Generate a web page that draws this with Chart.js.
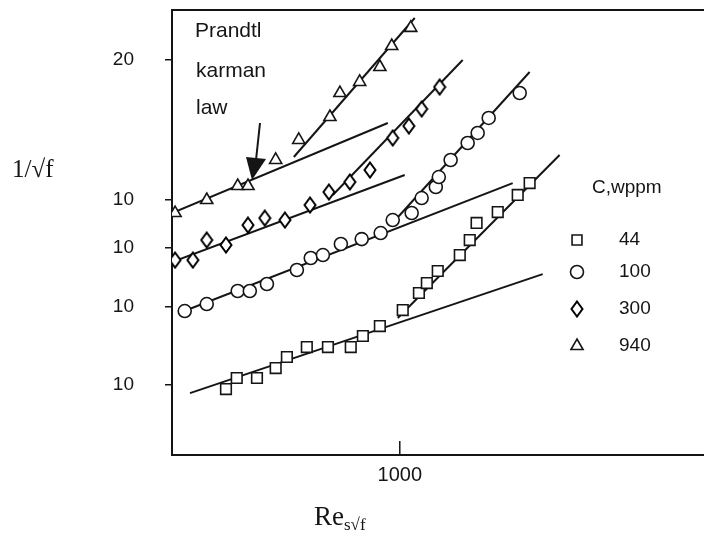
<!DOCTYPE html>
<html>
<head>
<meta charset="utf-8">
<script src="https://cdn.jsdelivr.net/npm/chart.js@4.4.1/dist/chart.umd.min.js"></script>
<style>
  html, body { margin: 0; padding: 0; background: #fff; overflow: hidden; }
  #wrap { width: 704px; height: 533px; }
</style>
</head>
<body>
<div id="wrap"><canvas id="chart" width="704" height="533"></canvas></div>
<script>
// values (x = Re_s√f, y = 1/√f in units of the main scale)
const re44 = [497, 519, 563, 607, 635, 688, 749, 821, 862, 923, 1012, 1080, 1115, 1165, 1273, 1325, 1362, 1483, 1607, 1686];
const f44 = [-3.5, -2.71, -2.71, -2.0, -1.21, -0.5, -0.5, -0.5, 0.29, 1.0, 2.14, 3.36, 4.07, 4.93, 6.07, 7.14, 8.36, 9.14, 10.36, 11.21];

const re100 = [421, 460, 521, 547, 586, 661, 699, 734, 789, 858, 926, 972, 1049, 1092, 1156, 1170, 1227, 1314, 1368, 1430, 1620];
const f100 = [2.07, 2.57, 3.5, 3.5, 4.0, 5.0, 5.86, 6.07, 6.86, 7.21, 7.64, 8.57, 9.07, 10.14, 10.93, 11.64, 12.86, 14.07, 14.79, 15.86, 17.64];

const re300 = [405, 435, 460, 497, 543, 581, 630, 697, 752, 818, 887, 972, 1037, 1092, 1174];
const f300 = [5.71, 5.71, 7.14, 6.79, 8.21, 8.71, 8.57, 9.64, 10.57, 11.29, 12.14, 14.43, 15.29, 16.5, 18.07];

const re940 = [405, 460, 521, 543, 607, 666, 755, 786, 851, 923, 968, 1045];
const f940 = [9.07, 10.0, 11.0, 11.0, 12.86, 14.29, 15.93, 17.64, 18.43, 19.5, 21.0, 22.29];

// Prandtl-Karman law lines (start, end) and the drag-reduced fits
const pk44X = [430, 1777], pk44Y = [-3.79, 4.71];
const fit44X = [992, 1902], fit44Y = [1.57, 13.21];
const pk100X = [416, 1575], pk100Y = [2.0, 11.21];
const fit100X = [968, 1686], fit100Y = [8.29, 19.14];
const pk300X = [400, 1020], pk300Y = [5.57, 11.79];
const fit300X = [764, 1288], fit300Y = [10.36, 20.0];
const pk940X = [400, 953], pk940Y = [9.07, 15.5];
const fit940X = [653, 1062], fit940Y = [13.07, 23.0];

const xTickValues = [1000];
const xTickLabels = ['1000'];
const yTickValues = [20, 10, 6.57, 2.36, -3.21];
const yTickLabels = ['20', '10', '10', '10', '10'];

const legendLabels = ['44', '100', '300', '940'];

const ink = '#151515';
const sans = "'Liberation Sans', Arial, sans-serif";
const serif = "'Liberation Serif', 'Times New Roman', serif";

// the figure's diamonds are taller than wide, so draw one as an image
function makeDiamond(w, h) {
  const c = document.createElement('canvas');
  c.width = w; c.height = h;
  const g = c.getContext('2d');
  g.fillStyle = '#fff';
  g.strokeStyle = '#000';
  g.lineWidth = 2;
  g.beginPath();
  g.moveTo(w / 2, 1.5);
  g.lineTo(w - 1.5, h / 2);
  g.lineTo(w / 2, h - 1.5);
  g.lineTo(1.5, h / 2);
  g.closePath();
  g.fill();
  g.stroke();
  return c;
}
const diamond = makeDiamond(14, 18);

const legendStyles = ['rect', 'circle', diamond, 'triangle'];
const legendRadius = [7, 6.5, 8, 7];

function pts(xs, ys) {
  return xs.map((x, i) => ({ x: x, y: ys[i] }));
}

function markers(xs, ys, style, r) {
  return {
    type: 'scatter', data: pts(xs, ys), order: 0,
    pointStyle: style, pointRadius: r, pointBorderWidth: 1.6,
    pointBorderColor: ink, pointBackgroundColor: '#fff', showLine: false
  };
}

function line(xs, ys) {
  return {
    type: 'line', data: pts(xs, ys), order: 1,
    borderColor: ink, borderWidth: 2, pointRadius: 0, fill: false, tension: 0
  };
}

// keep the plot frame where the figure has it
function noPad(s) {
  s.paddingTop = 0; s.paddingBottom = 0; s.paddingLeft = 0; s.paddingRight = 0;
}

const decorations = {
  id: 'decorations',
  afterDraw(chart) {
    const ctx = chart.ctx;
    const a = chart.chartArea;
    const xs = chart.scales.x;
    ctx.save();
    ctx.strokeStyle = ink;
    ctx.fillStyle = ink;

    // top frame line
    ctx.lineWidth = 2;
    ctx.beginPath();
    ctx.moveTo(a.left - 1, a.top);
    ctx.lineTo(a.right, a.top);
    ctx.stroke();

    // x ticks point inwards
    ctx.lineWidth = 1.5;
    xTickValues.forEach(v => {
      const px = xs.getPixelForValue(v);
      ctx.beginPath();
      ctx.moveTo(px, a.bottom);
      ctx.lineTo(px, a.bottom - 14);
      ctx.stroke();
    });

    // annotation
    ctx.font = '21px ' + sans;
    ctx.textAlign = 'left';
    ctx.textBaseline = 'alphabetic';
    ctx.fillText('Prandtl', 195, 37);
    ctx.fillText('karman', 196, 77);
    ctx.fillText('law', 196, 114);

    ctx.lineWidth = 2;
    ctx.beginPath();
    ctx.moveTo(260, 123);
    ctx.lineTo(256, 160);
    ctx.stroke();
    ctx.beginPath();
    ctx.moveTo(252, 180);
    ctx.lineTo(246, 157);
    ctx.lineTo(266, 159);
    ctx.closePath();
    ctx.fill();

    // legend
    ctx.font = '19px ' + sans;
    ctx.textBaseline = 'middle';
    ctx.fillText('C,wppm', 592, 188);
    const rowY = [240, 272, 309, 346];
    legendLabels.forEach((lab, i) => {
      ctx.lineWidth = 1.6;
      ctx.fillStyle = '#fff';
      ctx.strokeStyle = ink;
      Chart.helpers.drawPoint(ctx, {
        pointStyle: legendStyles[i], radius: legendRadius[i], rotation: 0, borderWidth: 1.6
      }, 577, rowY[i]);
      ctx.fillStyle = ink;
      ctx.fillText(lab, 619, rowY[i]);
    });

    // axis titles
    ctx.fillStyle = ink;
    ctx.textBaseline = 'alphabetic';
    ctx.font = '25px ' + serif;
    ctx.fillText('1/\u221Af', 12, 177);
    ctx.font = '27px ' + serif;
    ctx.fillText('Re', 314, 525);
    const w = ctx.measureText('Re').width;
    ctx.font = '17px ' + serif;
    ctx.fillText('s\u221Af', 314 + w, 530);
    ctx.restore();
  }
};

new Chart(document.getElementById('chart'), {
  type: 'scatter',
  data: {
    datasets: [
      markers(re44, f44, 'rect', 7.5),
      markers(re100, f100, 'circle', 6.5),
      markers(re300, f300, diamond, 8),
      markers(re940, f940, 'triangle', 7),
      line(pk44X, pk44Y), line(fit44X, fit44Y),
      line(pk100X, pk100Y), line(fit100X, fit100Y),
      line(pk300X, pk300Y), line(fit300X, fit300Y),
      line(pk940X, pk940Y), line(fit940X, fit940Y)
    ]
  },
  options: {
    responsive: false,
    animation: false,
    events: [],
    layout: { autoPadding: false, padding: { top: 10, left: 0, right: 0, bottom: 0 } },
    plugins: { legend: { display: false }, tooltip: { enabled: false } },
    scales: {
      x: {
        type: 'logarithmic', min: 400, max: 3400,
        afterBuildTicks: s => { s.ticks = xTickValues.map(v => ({ value: v })); },
        afterFit: s => { s.height = 78; noPad(s); },
        ticks: {
          callback: (v, i) => xTickLabels[i], autoSkip: false, maxRotation: 0,
          padding: 8, color: ink, font: { family: sans, size: 20 }
        },
        grid: { display: false, drawTicks: false },
        border: { display: true, color: ink, width: 2 }
      },
      y: {
        type: 'linear', min: -8.21, max: 23.57,
        afterBuildTicks: s => { s.ticks = yTickValues.map(v => ({ value: v })); },
        afterFit: s => { s.width = 172; noPad(s); },
        ticks: {
          callback: (v, i) => yTickLabels[i], autoSkip: false,
          padding: 31, color: ink, font: { family: sans, size: 19 }
        },
        grid: { drawOnChartArea: false, drawTicks: true, tickLength: 7, color: ink, lineWidth: 1.5 },
        border: { display: true, color: ink, width: 2 }
      }
    }
  },
  plugins: [decorations]
});
</script>
</body>
</html>
